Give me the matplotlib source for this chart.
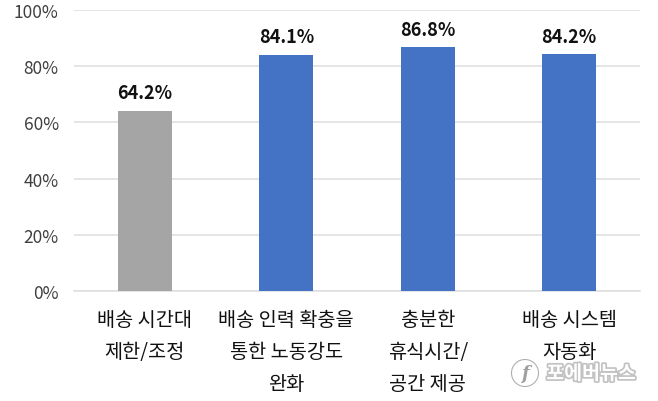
import matplotlib
matplotlib.use('Agg')
import matplotlib.pyplot as plt
import matplotlib.patheffects as pe

plt.rcParams['font.family'] = ['Noto Sans CJK KR', 'DejaVu Sans']

categories = ['배송 시간대\n제한/조정', '배송 인력 확충을\n통한 노동강도\n완화', '충분한\n휴식시간/\n공간 제공', '배송 시스템\n자동화']
values = [64.2, 84.1, 86.8, 84.2]
colors = ['#A5A5A5', '#4472C4', '#4472C4', '#4472C4']
yticks = [0, 20, 40, 60, 80, 100]

W, H = 658, 402
fig = plt.figure(figsize=(W / 100, H / 100), dpi=100)
ax = fig.add_axes([74 / W, 1 - 292 / H, (640 - 74) / W, (292 - 11) / H])

xs = range(len(values))
ax.bar(xs, values, width=0.38, color=colors, zorder=3)
for x, v in zip(xs, values):
    ax.text(x, v + 3, '%.1f%%' % v, ha='center', va='bottom', fontsize=13, fontweight='bold', color='#111111')

ax.set_xlim(-0.5, 3.5)
ax.set_ylim(0, 100)
ax.set_yticks(yticks)
ax.set_yticklabels(['%d%%' % t for t in yticks], fontsize=12.5, color='#404040')
ax.set_xticks(list(xs))
ax.set_xticklabels(categories, fontsize=14.2, color='#111111', linespacing=1.68)
ax.tick_params(axis='both', length=0)
ax.tick_params(axis='x', pad=13)
ax.tick_params(axis='y', pad=11)
ax.grid(axis='y', color='#DEDEDE', linewidth=1.1, zorder=0)
for s in ['top', 'right', 'left']:
    ax.spines[s].set_visible(False)
ax.spines['bottom'].set_color('#DEDEDE')
ax.spines['bottom'].set_linewidth(1.1)

# watermark
shadow = [pe.withStroke(linewidth=2.5, foreground='#9A9A9A', alpha=0.6)]
fig.text(591 / W, 1 - 375 / H, '포에버뉴스', fontsize=14, fontweight='bold', color='white', ha='center', va='center', path_effects=shadow)
fig.text(525 / W, 1 - 374 / H, 'f', fontsize=13, style='italic', fontweight='bold', color='#A0A0A0', ha='center', va='center',
         family='DejaVu Serif', bbox=dict(boxstyle='circle,pad=0.25', fc='white', ec='#B0B0B0', lw=0.8))

fig.savefig('out.png', dpi=100)
